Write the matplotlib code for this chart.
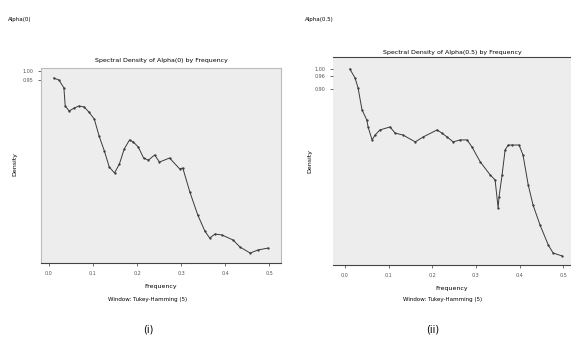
import matplotlib
matplotlib.use("Agg")
from matplotlib import pyplot as plt

# data (frequency, density scaled so the top tick = 1.00)
freq_a = [0.011, 0.023, 0.034, 0.037, 0.046, 0.057, 0.068, 0.080, 0.091, 0.103,
          0.114, 0.126, 0.137, 0.149, 0.160, 0.171, 0.183, 0.192, 0.203, 0.215,
          0.226, 0.240, 0.251, 0.274, 0.297, 0.304, 0.320, 0.338, 0.354, 0.365,
          0.377, 0.393, 0.418, 0.434, 0.457, 0.475, 0.498]
dens_a = [0.964, 0.953, 0.912, 0.818, 0.792, 0.807, 0.818, 0.813, 0.786, 0.750,
          0.661, 0.583, 0.500, 0.469, 0.516, 0.594, 0.641, 0.630, 0.604, 0.547,
          0.536, 0.563, 0.526, 0.547, 0.490, 0.495, 0.370, 0.250, 0.167, 0.130,
          0.151, 0.146, 0.120, 0.083, 0.052, 0.068, 0.078]
freq_b = [0.011, 0.023, 0.030, 0.039, 0.050, 0.053, 0.062, 0.069, 0.080, 0.103,
          0.115, 0.133, 0.161, 0.179, 0.211, 0.222, 0.234, 0.248, 0.264, 0.280,
          0.291, 0.310, 0.333, 0.344, 0.351, 0.353, 0.360, 0.367, 0.374, 0.383,
          0.399, 0.408, 0.420, 0.431, 0.447, 0.466, 0.477, 0.498]
dens_b = [1.000, 0.954, 0.903, 0.791, 0.740, 0.704, 0.638, 0.663, 0.689, 0.704,
          0.673, 0.663, 0.628, 0.653, 0.689, 0.673, 0.653, 0.628, 0.638, 0.638,
          0.602, 0.526, 0.459, 0.434, 0.291, 0.347, 0.459, 0.587, 0.612, 0.612,
          0.612, 0.561, 0.408, 0.306, 0.204, 0.102, 0.061, 0.046]

ticks_x = [0.0, 0.1, 0.2, 0.3, 0.4, 0.5]
tick_lbl_x = ['0.0', '0.1', '0.2', '0.3', '0.4', '0.5']

bg = '#ededed'
ink = '#3a3a3a'

fig = plt.figure(figsize=(5.71, 3.40), dpi=100)

# panel (i)
ax1 = fig.add_axes([41 / 571, 1 - 263 / 340, 240 / 571, 195 / 340])
ax1.set_facecolor(bg)
ax1.plot(freq_a, dens_a, color=ink, lw=0.7, marker='.', ms=1.3)
ax1.set_xlim(-0.018, 0.527)
ax1.set_ylim(0, 1.016)
ax1.set_xticks(ticks_x)
ax1.set_xticklabels(tick_lbl_x)
ax1.set_yticks([1.0, 0.953])
ax1.set_yticklabels(['1.00', '0.95'])
ax1.set_title('Spectral Density of Alpha(0) by Frequency', fontsize=4.5, pad=4)
ax1.set_xlabel('Frequency', fontsize=4.5, labelpad=6)
ax1.set_ylabel('Density', fontsize=4.5)
ax1.yaxis.set_label_coords(-0.10, 0.51)
for s in ['left', 'right', 'top']:
    ax1.spines[s].set_color('#bbbbbb')
    ax1.spines[s].set_linewidth(0.8)
ax1.spines['bottom'].set_color('#444444')
ax1.tick_params(labelsize=3.5, length=2, width=0.6, colors='#555555')

# panel (ii)
ax2 = fig.add_axes([333 / 571, 1 - 265 / 340, 238 / 571, 208 / 340])
ax2.set_facecolor(bg)
ax2.plot(freq_b, dens_b, color=ink, lw=0.7, marker='.', ms=1.3)
ax2.set_xlim(-0.0275, 0.518)
ax2.set_ylim(0, 1.061)
ax2.set_xticks(ticks_x)
ax2.set_xticklabels(tick_lbl_x)
ax2.set_yticks([1.0, 0.964, 0.898])
ax2.set_yticklabels(['1.00', '0.96', '0.90'])
ax2.set_title('Spectral Density of Alpha(0.5) by Frequency', fontsize=4.5, pad=2)
ax2.set_xlabel('Frequency', fontsize=4.5, labelpad=6)
ax2.set_ylabel('Density', fontsize=4.5)
ax2.yaxis.set_label_coords(-0.085, 0.50)
ax2.spines['left'].set_visible(False)
ax2.spines['right'].set_visible(False)
ax2.spines['top'].set_color('#444444')
ax2.spines['bottom'].set_color('#444444')
ax2.tick_params(labelsize=3.5, length=2, width=0.6, colors='#555555')

fig.text(8 / 571, 1 - 19 / 340, 'Alpha(0)', fontsize=4, va='center')
fig.text(305 / 571, 1 - 19 / 340, 'Alpha(0.5)', fontsize=4, va='center')
fig.text(108 / 571, 1 - 300 / 340, 'Window: Tukey-Hamming (5)', fontsize=4, va='center')
fig.text(403 / 571, 1 - 300 / 340, 'Window: Tukey-Hamming (5)', fontsize=4, va='center')
fig.text(148 / 571, 1 - 330 / 340, '(i)', fontsize=7, ha='center', va='center')
fig.text(433 / 571, 1 - 330 / 340, '(ii)', fontsize=7, ha='center', va='center')

fig.savefig('out.png', dpi=100)
